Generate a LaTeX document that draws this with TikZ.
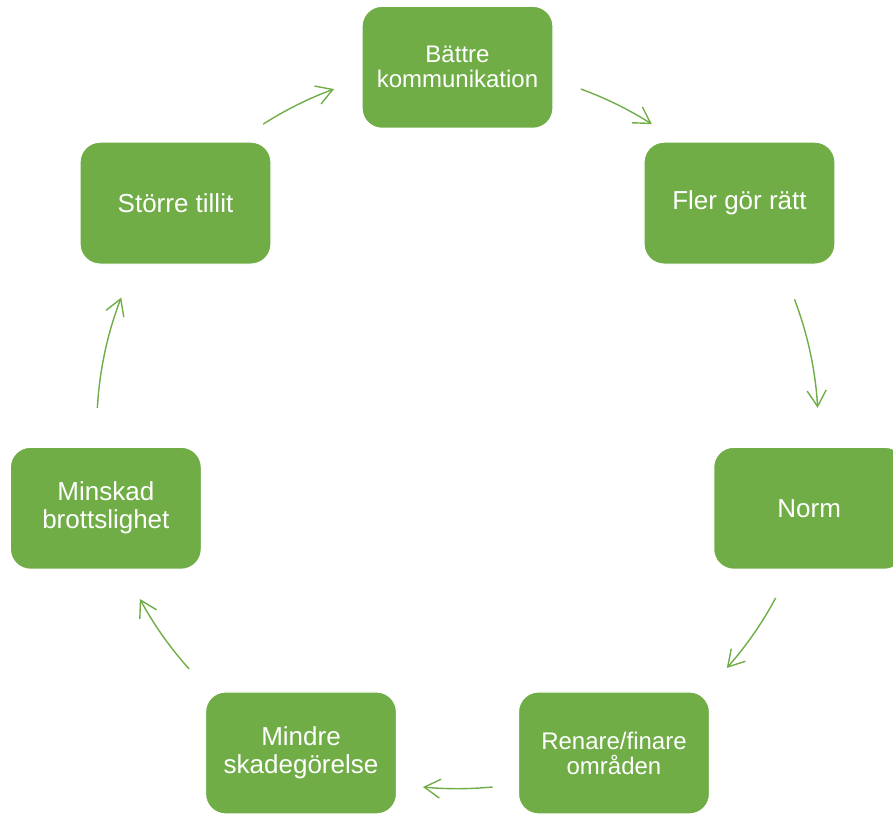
\documentclass[tikz,border=0pt]{standalone}
\usepackage{fontspec}
\setmainfont{Liberation Sans}
\usetikzlibrary{arrows.meta}
\definecolor{lgreen}{HTML}{70AD47}
\begin{document}
\begin{tikzpicture}[x=1pt,y=1pt,
  box/.style={rectangle, rounded corners=20pt, fill=lgreen, draw=white, line width=1.2pt,
    minimum width=191pt, minimum height=122pt, text=white, align=center, inner sep=0pt,
    font=\fontsize{26}{28}\selectfont},
  smallbox/.style={box, font=\fontsize{24}{25}\selectfont},
  cyc/.style={draw=lgreen, line width=1.4pt,
    -{Straight Barb[length=16pt,width=19pt,line width=1.4pt]}}]
\useasboundingbox (-457.5,-385) rectangle (435.5,428);
\clip (-457.5,-385) rectangle (435.5,428);
\def\R{360.7pt}
\node[smallbox] (n0) at (90:\R) {Bättre\\kommunikation};
\node[box] (n1) at (38.571:\R) {Fler gör rätt};
\node[box] (n2) at (-12.857:\R) {Norm};
\node[smallbox] (n3) at (-64.286:\R) {Renare/finare\\områden};
\node[box] (n4) at (-115.714:\R) {Mindre\\skadegörelse};
\node[box] (n5) at (-167.143:\R) {Minskad\\brottslighet};
\node[box] (n6) at (141.429:\R) {Större tillit};
\coordinate (a1) at (70:\R);
\coordinate (a2) at (20.9:\R);
\coordinate (a3) at (-28.1:\R);
\coordinate (a4) at (-84.4:\R);
\coordinate (a5) at (-138.1:\R);
\coordinate (a6) at (176.8:\R);
\coordinate (a7) at (122.6:\R);
\draw[cyc] (a1) arc[start angle=70, end angle=57.4, radius=\R];
\draw[cyc] (a2) arc[start angle=20.9, end angle=3.2, radius=\R];
\draw[cyc] (a3) arc[start angle=-28.1, end angle=-41.7, radius=\R];
\draw[cyc] (a4) arc[start angle=-84.4, end angle=-95.5, radius=\R];
\draw[cyc] (a5) arc[start angle=-138.1, end angle=-151.7, radius=\R];
\draw[cyc] (a6) arc[start angle=176.8, end angle=158.8, radius=\R];
\draw[cyc] (a7) arc[start angle=122.6, end angle=110, radius=\R];
\end{tikzpicture}
\end{document}
